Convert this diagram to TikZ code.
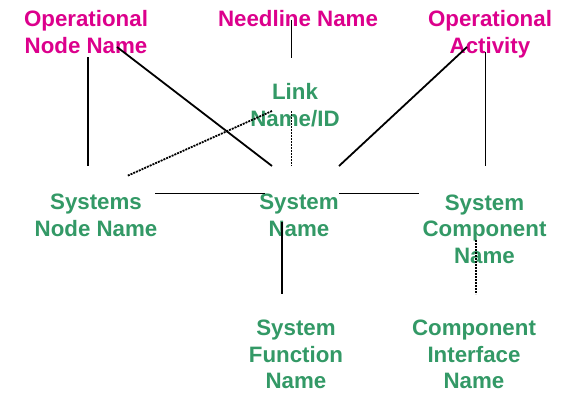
\documentclass[tikz,border=0pt]{standalone}
\usepackage{fontspec}
\setmainfont{Liberation Sans}
\definecolor{opmag}{RGB}{220,0,140}
\definecolor{sysgreen}{RGB}{51,153,102}
\tikzset{
  lbl/.style={align=center, anchor=base, inner sep=0pt, font=\fontsize{22.3}{26.5}\selectfont\bfseries},
  oplbl/.style={lbl, text=opmag},
  syslbl/.style={lbl, text=sysgreen},
  solidline/.style={draw=black, line width=1.8pt},
  dotline/.style={draw=black, line width=1.8pt, dash pattern=on 2pt off 1pt}
}
\begin{document}
\begin{tikzpicture}[x=1pt,y=-1pt]
\useasboundingbox (0,0) rectangle (571,392);
% labels (anchored at the baseline of the last line)
\node[oplbl]  (opnode) at (86,53)  {Operational\\Node Name};
\node[oplbl]  (needline) at (298,26) {Needline Name};
\node[oplbl]  (opact) at (490,53)  {Operational\\Activity};
\node[syslbl] (link) at (295,126) {Link\\Name/ID};
\node[syslbl] (sysnode) at (96,236) {Systems\\Node Name};
\node[syslbl] (sysname) at (299,236) {System\\Name};
\node[syslbl] (syscomp) at (484.5,263) {System\\Component\\Name};
\node[syslbl] (sysfunc) at (296,388.5) {System\\Function\\Name};
\node[syslbl] (compif) at (474,388.5) {Component\\Interface\\Name};
% connector end points
\coordinate (needA) at (291.5,20);  \coordinate (needB) at (291.5,58);
\coordinate (onA) at (88,57);       \coordinate (onB) at (88,166);
\coordinate (onC) at (117,47);      \coordinate (onD) at (272,166);
\coordinate (oaC) at (467,47);      \coordinate (oaD) at (339,166);
\coordinate (oaA) at (485.5,52);    \coordinate (oaB) at (485.5,166);
\coordinate (lkC) at (272,111);     \coordinate (lkD) at (127,176);
\coordinate (lkA) at (291.5,111);   \coordinate (lkB) at (291.5,166);
\coordinate (hzA) at (155,193.5);   \coordinate (hzB) at (265,193.5);
\coordinate (hzC) at (339,193.5);   \coordinate (hzD) at (419,193.5);
\coordinate (sfA) at (282,222);     \coordinate (sfB) at (282,294);
\coordinate (ciA) at (476,240);     \coordinate (ciB) at (476,294);
% connectors
\draw[solidline] (needA) -- (needB);
\draw[solidline] (onA) -- (onB);
\draw[solidline] (onC) -- (onD);
\draw[solidline] (oaC) -- (oaD);
\draw[solidline] (oaA) -- (oaB);
\draw[dotline] (lkC) -- (lkD);
\draw[dotline] (lkA) -- (lkB);
\draw[solidline] (hzA) -- (hzB);
\draw[solidline] (hzC) -- (hzD);
\draw[solidline] (sfA) -- (sfB);
\draw[dotline] (ciA) -- (ciB);
\end{tikzpicture}
\end{document}
